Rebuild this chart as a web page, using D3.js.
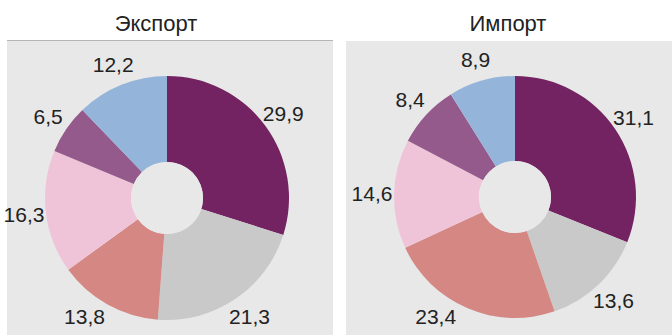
<!DOCTYPE html>
<html>
<head>
<meta charset="utf-8">
<script src="https://cdn.jsdelivr.net/npm/d3@7"></script>
<style>
  html, body { margin: 0; padding: 0; background: #ffffff; }
  svg { display: block; }
</style>
</head>
<body>
<svg id="chart" width="672" height="335"></svg>
<script>
// Structure shares, % (clockwise from 12 o'clock)
const categories = ["c1", "c2", "c3", "c4", "c5", "c6"];
const exportValues = [29.9, 21.3, 13.8, 16.3, 6.5, 12.2];
const importValues = [31.1, 13.6, 23.4, 14.6, 8.4, 8.9];
const titles = ["Экспорт", "Импорт"];
const sliceColors = ["#732262", "#c9c9c9", "#d48783", "#f0c4d8", "#945a8b", "#94b4d9"];

const svg = d3.select("#chart");
const W = 672, H = 335;
const bg = "#e8e8e8";
const fmt = v => d3.format(".1f")(v).replace(".", ",");

const color = d3.scaleOrdinal().domain(categories).range(sliceColors);

const panels = [
  { title: titles[0], values: exportValues, x0: 7, x1: 333, top: 40, border: true,
    cx: 167, cy: 198, r: 122, ri: 36, titleX: 156 },
  { title: titles[1], values: importValues, x0: 346, x1: W, top: 41, border: false,
    cx: 515, cy: 197, r: 121, ri: 36, titleX: 508 }
];

const pie = d3.pie().sort(null).value(d => d.value).startAngle(0).endAngle(2 * Math.PI);
const labelGap = 22;
const bottomMargin = 19;

panels.forEach(p => {
  const g = svg.append("g");

  g.append("rect")
    .attr("x", p.x0).attr("y", p.top)
    .attr("width", p.x1 - p.x0).attr("height", H - p.top)
    .attr("fill", bg);

  if (p.border) {
    g.append("line")
      .attr("x1", p.x0).attr("x2", p.x1)
      .attr("y1", p.top + 0.5).attr("y2", p.top + 0.5)
      .attr("stroke", "#b5b5b5").attr("stroke-width", 1.2);
  }

  g.append("text")
    .attr("x", p.titleX).attr("y", 31)
    .attr("text-anchor", "middle")
    .attr("font-family", "Liberation Sans, Arial, sans-serif")
    .attr("font-size", 22)
    .attr("fill", "#222")
    .text(p.title);

  const data = categories.map((c, i) => ({ cat: c, value: p.values[i] }));
  const arcs = pie(data);
  const arc = d3.arc().innerRadius(p.ri).outerRadius(p.r);
  const lr = p.r + labelGap;

  // Label position on a circle around the ring; labels that would fall
  // below the panel slide along that circle until they fit.
  const labelPos = d => {
    const a = (d.startAngle + d.endAngle) / 2;
    let x = lr * Math.sin(a), y = -lr * Math.cos(a);
    const maxY = H - bottomMargin - p.cy;
    if (y > maxY) {
      y = maxY;
      x = Math.sign(x) * Math.sqrt(lr * lr - y * y);
    }
    return [x, y];
  };

  const donut = g.append("g").attr("transform", `translate(${p.cx},${p.cy})`);

  donut.selectAll("path")
    .data(arcs)
    .join("path")
    .attr("d", arc)
    .attr("fill", d => color(d.data.cat));

  donut.append("circle").attr("r", p.ri).attr("fill", bg);

  donut.selectAll("text.lbl")
    .data(arcs)
    .join("text")
    .attr("class", "lbl")
    .attr("transform", d => `translate(${labelPos(d)})`)
    .attr("text-anchor", "middle")
    .attr("dy", "0.36em")
    .attr("font-family", "Liberation Sans, Arial, sans-serif")
    .attr("font-size", 21)
    .attr("fill", "#222")
    .text(d => fmt(d.data.value));
});
</script>
</body>
</html>
